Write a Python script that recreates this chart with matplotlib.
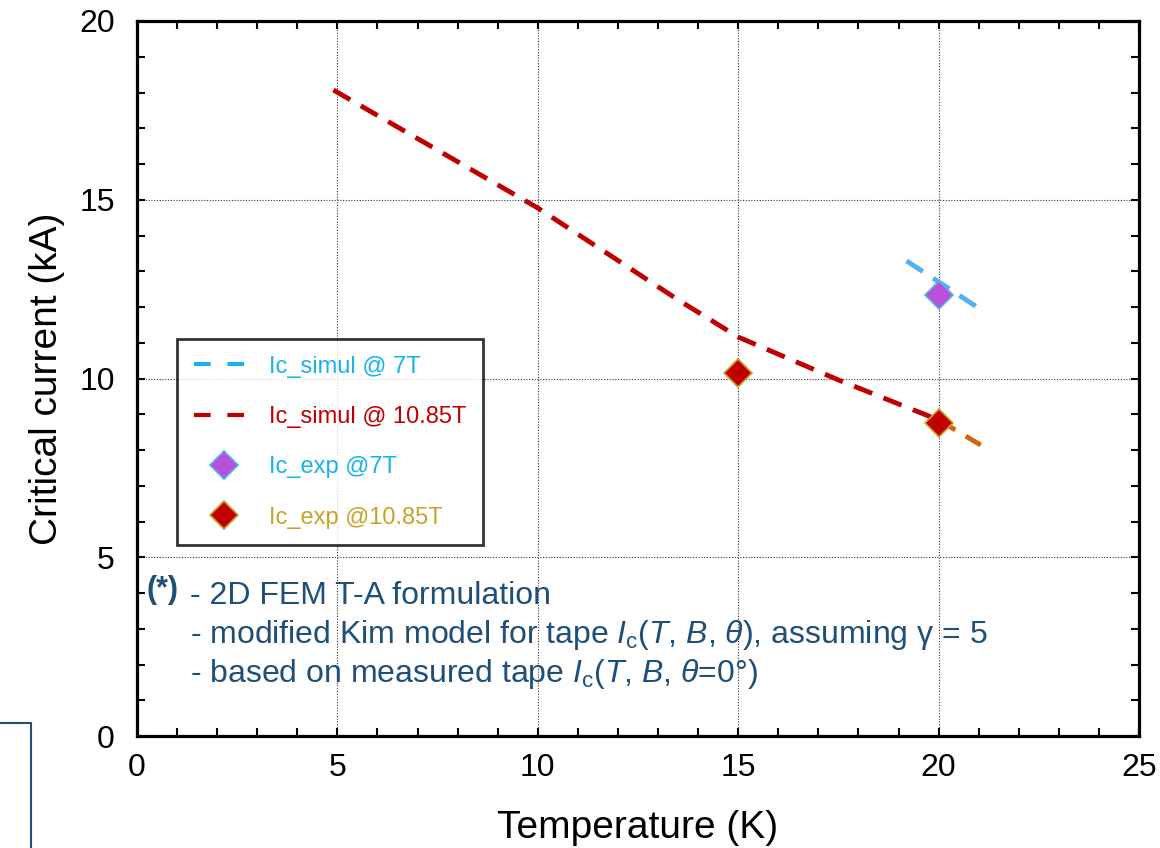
import matplotlib
matplotlib.use('Agg')
import matplotlib.pyplot as plt
from matplotlib.lines import Line2D
from matplotlib.ticker import MultipleLocator

plt.rcParams['font.family'] = ['Liberation Sans', 'DejaVu Sans']
plt.rcParams['mathtext.fontset'] = 'custom'
plt.rcParams['mathtext.rm'] = 'Liberation Sans'
plt.rcParams['mathtext.it'] = 'Liberation Sans:italic'

# simulated critical current, 10.85 T
sim108_T = [4.9, 10, 13.5, 15, 17.5, 20]
sim108_I = [18.07, 14.77, 12.2, 11.16, 9.96, 8.84]
# extension past 20 K (orange)
ext108_T = [20, 21.05]
ext108_I = [8.84, 8.14]
# simulated critical current, 7 T
sim7_T = [19.2, 21.0]
sim7_I = [13.29, 11.97]
# measured points
exp7_T = [20]
exp7_I = [12.33]
exp108_T = [15, 20]
exp108_I = [10.15, 8.76]

navy = '#1F4E79'
cyan = '#1AB2EE'
red = '#C00000'
gold = '#C9A227'
lightblue = '#55AEEE'

fig = plt.figure(figsize=(11.6, 8.48), dpi=100)
ax = fig.add_axes([137/1160, 1-736/848, (1139-137)/1160, (736-21)/848])

dash = (4, 2.5)
ax.plot(sim108_T, sim108_I, color=red, lw=3.5, dashes=dash)
ax.plot(ext108_T, ext108_I, color='#D2640F', lw=3.5, dashes=dash)
ax.plot(sim7_T, sim7_I, color=lightblue, lw=3.5, dashes=dash)
ax.plot(exp7_T, exp7_I, 'D', ms=14, color='#B850D8', mec=lightblue, mew=1.2, zorder=5)
ax.plot(exp108_T, exp108_I, 'D', ms=14, color=red, mec=gold, mew=1.2, zorder=5)

ax.set_xlim(0, 25)
ax.set_ylim(0, 20)
ax.xaxis.set_major_locator(MultipleLocator(5))
ax.xaxis.set_minor_locator(MultipleLocator(1))
ax.yaxis.set_major_locator(MultipleLocator(5))
ax.yaxis.set_minor_locator(MultipleLocator(1))
ax.grid(True, which='major', ls=(0, (1, 1.5)), color='#333333', lw=0.8)
ax.tick_params(which='both', direction='in', top=True, right=True, length=6, width=1.5)
ax.tick_params(axis='x', labelsize=23, pad=12)
ax.tick_params(axis='y', labelsize=23, pad=16)
for s in ax.spines.values():
    s.set_linewidth(2.3)

ax.set_xlabel('Temperature (K)', fontsize=28, labelpad=20)
ax.set_ylabel('Critical current (kA)', fontsize=28, labelpad=10)

handles = [
    Line2D([], [], color=cyan, lw=3, dashes=(4, 4)),
    Line2D([], [], color=red, lw=3, dashes=(4, 4)),
    Line2D([], [], ls='none', marker='D', ms=14, color='#B850D8', mec=lightblue, mew=1.2),
    Line2D([], [], ls='none', marker='D', ms=14, color=red, mec=gold, mew=1.2),
]
labels = ['Ic_simul @ 7T', 'Ic_simul @ 10.85T', 'Ic_exp @7T', 'Ic_exp @10.85T']
leg = fig.legend(handles, labels, loc='upper left', bbox_to_anchor=(177/1160, 1-339/848),
                 fontsize=17, frameon=True, fancybox=False, edgecolor='black',
                 borderpad=0.7, labelspacing=1.2, handlelength=2.6, handletextpad=0.6,
                 borderaxespad=0)
leg.get_frame().set_linewidth(2)
for t, c in zip(leg.get_texts(), [cyan, red, cyan, gold]):
    t.set_color(c)

fig.text(147/1160, 1-590/848, '(*)', fontsize=22, fontweight='bold', color=navy, va='center')
notes = ['- 2D FEM T-A formulation',
         r'- modified Kim model for tape $I_\mathrm{c}$($T$, $B$, $\theta$), assuming γ = 5',
         r'- based on measured tape $I_\mathrm{c}$($T$, $B$, $\theta$=0°)']
for i, n in enumerate(notes):
    fig.text(190/1160, 1-(596 + i*39)/848, n, fontsize=23, color=navy, va='center')

# leftover frame from slide
fig.add_artist(Line2D([0, 31/1160, 31/1160], [1-723/848, 1-723/848, 0], color=navy, lw=1.5))

fig.savefig('out.png', dpi=100)
